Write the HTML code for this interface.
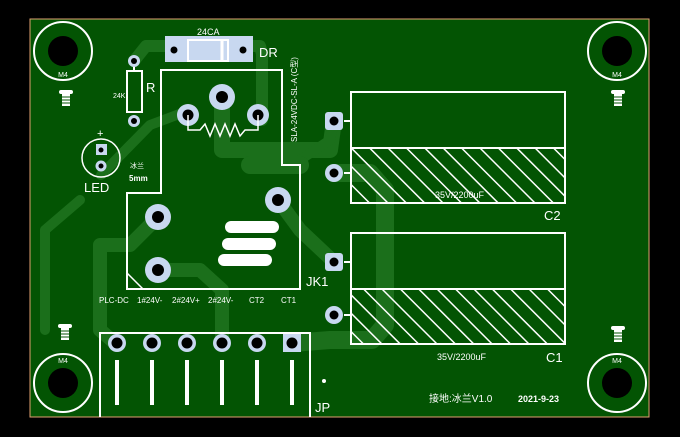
<!DOCTYPE html>
<html><head><meta charset="utf-8"><style>
html,body{margin:0;padding:0;background:#000;}
svg{display:block}
text{font-family:"Liberation Sans","Noto Sans CJK SC",sans-serif;fill:#fff}
</style></head><body>
<svg width="680" height="437" viewBox="0 0 680 437" xmlns="http://www.w3.org/2000/svg">
<defs>
<pattern id="h" patternUnits="userSpaceOnUse" width="13" height="13" patternTransform="rotate(-45)">
<rect width="13" height="13" fill="none"/><line x1="0" y1="0" x2="0" y2="13" stroke="#fff" stroke-width="3"/>
</pattern>
<g id="scr"><rect x="-7" y="-4" width="14" height="4" rx="2" fill="#fff"/><rect x="-4" y="0" width="8" height="12" fill="#fff"/><line x1="-4" y1="3" x2="4" y2="3" stroke="#035403"/><line x1="-4" y1="6" x2="4" y2="6" stroke="#035403"/><line x1="-4" y1="9" x2="4" y2="9" stroke="#035403"/></g>
</defs>
<rect width="680" height="437" fill="#000"/>
<rect x="30" y="19" width="619" height="398" fill="#035403" stroke="#e0a070" stroke-width="1"/>
<g fill="none" stroke="#1b6f1b" stroke-linecap="round" stroke-linejoin="round">
<path d="M134 61 L146 46 L260 46 L262 54 L262 120" stroke-width="12"/>
<path d="M101 175 L150 125 L190 110" stroke-width="10"/>
<path d="M222 97 L222 150 L300 150 L330 150 L334 121" stroke-width="16"/>
<path d="M158 217 L130 245 L100 245 L100 330 L115 343" stroke-width="14"/>
<path d="M158 270 L200 270 L222 290 L222 343" stroke-width="14"/>
<path d="M278 200 L300 230 L334 262" stroke-width="14"/>
<path d="M334 173 L370 173 L385 190 L385 325 L372 340 L330 340 L292 343" stroke-width="18"/>
<path d="M300 160 L330 140 L334 121" stroke-width="10"/>
<path d="M250 165 L300 165" stroke-width="18"/>
<path d="M45 330 L45 230 L80 200" stroke-width="10"/>
</g>
<g stroke="#fff" stroke-width="2" fill="none">
<circle cx="63" cy="51" r="29"/><circle cx="617" cy="51" r="29"/>
<circle cx="63" cy="383" r="29"/><circle cx="617" cy="383" r="29"/>
</g>
<g fill="#000"><circle cx="63" cy="51" r="15"/><circle cx="617" cy="51" r="15"/><circle cx="63" cy="383" r="15"/><circle cx="617" cy="383" r="15"/></g>
<g font-size="7" text-anchor="middle"><text x="63" y="77">M4</text><text x="617" y="77">M4</text><text x="63" y="363">M4</text><text x="617" y="363">M4</text></g>
<use href="#scr" x="66" y="94"/><use href="#scr" x="618" y="94"/><use href="#scr" x="65" y="328"/><use href="#scr" x="618" y="330"/>
<rect x="165" y="36" width="88" height="26" fill="#c8d8f0"/>
<rect x="188" y="40" width="40" height="21" fill="none" stroke="#fff" stroke-width="2"/>
<line x1="222" y1="40" x2="222" y2="61" stroke="#fff" stroke-width="3"/>
<circle cx="174" cy="50" r="3.5" fill="#000"/><circle cx="243" cy="50" r="3.5" fill="#000"/>
<text x="197" y="35" font-size="9">24CA</text>
<text x="259" y="57" font-size="13">DR</text>
<rect x="127" y="71" width="15" height="41" fill="none" stroke="#fff" stroke-width="2"/>
<line x1="134" y1="64" x2="134" y2="71" stroke="#fff" stroke-width="2"/>
<circle cx="134" cy="61" r="6" fill="#c8d8f0"/><circle cx="134" cy="61" r="3" fill="#000"/>
<circle cx="134" cy="121" r="6" fill="#c8d8f0"/><circle cx="134" cy="121" r="3" fill="#000"/>
<text x="146" y="92" font-size="13">R</text>
<text x="113" y="98" font-size="7">24K</text>
<circle cx="101" cy="158" r="19" fill="none" stroke="#fff" stroke-width="1.5"/>
<rect x="96" y="144" width="11" height="11" fill="#c8d8f0"/><circle cx="101" cy="150" r="2.5" fill="#000"/>
<circle cx="101" cy="166" r="5.5" fill="#c8d8f0"/><circle cx="101" cy="166" r="2.5" fill="#000"/>
<text x="97" y="137" font-size="11">+</text>
<text x="84" y="192" font-size="13">LED</text>
<text x="130" y="168" font-size="7">冰兰</text>
<text x="129" y="181" font-size="8" font-weight="bold">5mm</text>
<path d="M161 70 L282 70 L282 165 L300 165 L300 289 L127 289 L127 193 L161 193 Z" fill="none" stroke="#fff" stroke-width="2"/>
<polygon points="128,261 128,288 155,288" fill="url(#h)"/>
<g fill="#c8d8f0"><circle cx="222" cy="97" r="13"/><circle cx="188" cy="115" r="11"/><circle cx="258" cy="115" r="11"/><circle cx="158" cy="217" r="13"/><circle cx="158" cy="270" r="13"/><circle cx="278" cy="200" r="13"/></g>
<g fill="#000"><circle cx="222" cy="97" r="6"/><circle cx="188" cy="115" r="5.5"/><circle cx="258" cy="115" r="5.5"/><circle cx="158" cy="217" r="6"/><circle cx="158" cy="270" r="6"/><circle cx="278" cy="200" r="6"/></g>
<polyline points="188,115 188,130 200,130 205,124 210,136 215,124 220,136 225,124 230,136 235,124 240,136 245,130 258,130 258,115" fill="none" stroke="#fff" stroke-width="1.5"/>
<g stroke="#fff" stroke-width="12" stroke-linecap="round"><line x1="231" y1="227" x2="273" y2="227"/><line x1="228" y1="244" x2="270" y2="244"/><line x1="224" y1="260" x2="266" y2="260"/></g>
<text x="306" y="286" font-size="13">JK1</text>
<text transform="translate(297,142) rotate(-90)" font-size="8">SLA-24VDC-SL-A (C型)</text>
<g font-size="8"><text x="99" y="303">PLC-DC</text><text x="137" y="303">1#24V-</text><text x="172" y="303">2#24V+</text><text x="208" y="303">2#24V-</text><text x="249" y="303">CT2</text><text x="281" y="303">CT1</text></g>
<path d="M100 417 L100 333 L310 333 L310 417" fill="none" stroke="#fff" stroke-width="2"/>
<g fill="#c8d8f0"><circle cx="117" cy="343" r="9"/><circle cx="152" cy="343" r="9"/><circle cx="187" cy="343" r="9"/><circle cx="222" cy="343" r="9"/><circle cx="257" cy="343" r="9"/><rect x="283" y="334" width="18" height="18"/></g>
<g fill="#000"><circle cx="117" cy="343" r="5.5"/><circle cx="152" cy="343" r="5.5"/><circle cx="187" cy="343" r="5.5"/><circle cx="222" cy="343" r="5.5"/><circle cx="257" cy="343" r="5.5"/><circle cx="292" cy="343" r="5.5"/></g>
<g fill="#fff"><rect x="115" y="360" width="4" height="45"/><rect x="150" y="360" width="4" height="45"/><rect x="185" y="360" width="4" height="45"/><rect x="220" y="360" width="4" height="45"/><rect x="255" y="360" width="4" height="45"/><rect x="290" y="360" width="4" height="45"/><circle cx="324" cy="381" r="2"/></g>
<text x="315" y="412" font-size="13">JP</text>
<g stroke="#fff" stroke-width="2">
<rect x="351" y="92" width="214" height="111" fill="none"/>
<rect x="352" y="149" width="212" height="53" fill="url(#h)" stroke="none"/>
<line x1="351" y1="148" x2="565" y2="148"/>
<rect x="351" y="233" width="214" height="111" fill="none"/>
<rect x="352" y="290" width="212" height="53" fill="url(#h)" stroke="none"/>
<line x1="351" y1="289" x2="565" y2="289"/>
<line x1="344" y1="121" x2="351" y2="121"/><line x1="344" y1="173" x2="351" y2="173"/>
<line x1="344" y1="262" x2="351" y2="262"/><line x1="344" y1="315" x2="351" y2="315"/>
</g>
<g fill="#c8d8f0"><rect x="325" y="112" width="18" height="18" rx="3"/><circle cx="334" cy="173" r="9"/><rect x="325" y="253" width="18" height="18" rx="3"/><circle cx="334" cy="315" r="9"/></g>
<g fill="#000"><circle cx="334" cy="121" r="4.5"/><circle cx="334" cy="173" r="4.5"/><circle cx="334" cy="262" r="4.5"/><circle cx="334" cy="315" r="4.5"/></g>
<g font-size="9"><text x="435" y="198">35V/2200uF</text><text x="437" y="360">35V/2200uF</text></g>
<g font-size="13"><text x="544" y="220">C2</text><text x="546" y="362">C1</text></g>
<text x="429" y="402" font-size="10">接地:冰兰V1.0</text>
<text x="518" y="402" font-size="9" font-weight="bold">2021-9-23</text>
</svg>
</body></html>
